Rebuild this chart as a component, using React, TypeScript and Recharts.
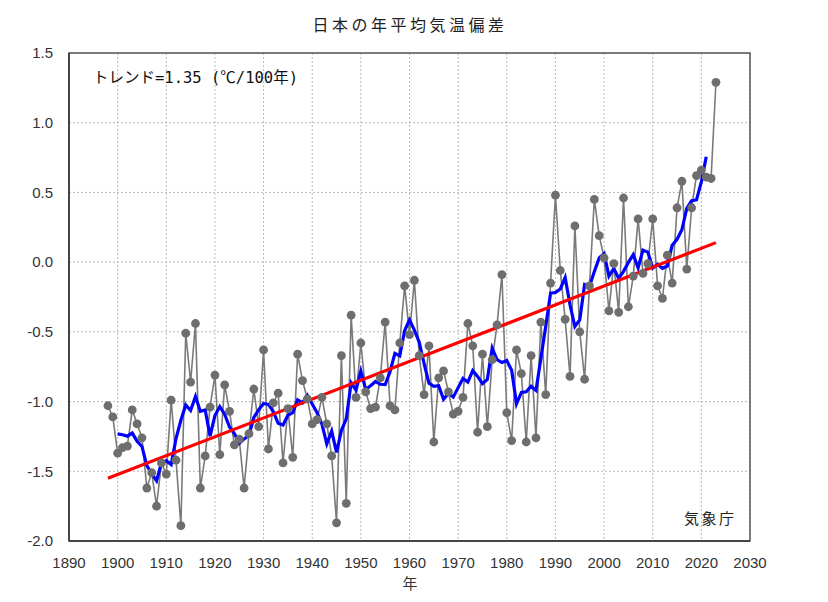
import React from 'react';
import {
  LineChart,
  Line,
  XAxis,
  YAxis,
  CartesianGrid,
  ReferenceArea,
} from 'recharts';

// 年 (1898-2023)
const years = Array.from({ length: 2023 - 1898 + 1 }, (_, i) => 1898 + i);

// 年平均気温偏差 (℃)
const anomalies = [
  -1.03, -1.11, -1.37, -1.33, -1.32, -1.06, -1.16, -1.26, -1.62, -1.51, // 1898-1907
  -1.75, -1.44, -1.52, -0.99, -1.42, -1.89, -0.51, -0.86, -0.44, -1.62, // 1908-1917
  -1.39, -1.04, -0.81, -1.38, -0.88, -1.07, -1.31, -1.27, -1.62, -1.23, // 1918-1927
  -0.91, -1.18, -0.63, -1.34, -1.01, -0.94, -1.44, -1.05, -1.40, -0.66, // 1928-1937
  -0.85, -0.98, -1.16, -1.13, -0.97, -1.16, -1.39, -1.87, -0.67, -1.73, // 1938-1947
  -0.38, -0.97, -0.58, -0.93, -1.05, -1.04, -0.83, -0.43, -1.03, -1.06, // 1948-1957
  -0.58, -0.17, -0.52, -0.13, -0.67, -0.95, -0.60, -1.29, -0.83, -0.78, // 1958-1967
  -0.93, -1.09, -1.07, -0.97, -0.44, -0.60, -1.22, -0.66, -1.18, -0.70, // 1968-1977
  -0.45, -0.09, -1.08, -1.28, -0.63, -0.80, -1.29, -0.67, -1.26, -0.43, // 1978-1987
  -0.95, -0.15, 0.48, -0.06, -0.41, -0.82, 0.26, -0.50, -0.84, -0.17, // 1988-1997
  0.45, 0.19, 0.03, -0.35, -0.01, -0.36, 0.46, -0.32, -0.10, 0.31, // 1998-2007
  -0.08, -0.01, 0.31, -0.17, -0.26, 0.05, -0.15, 0.39, 0.58, -0.05, // 2008-2017
  0.39, 0.62, 0.66, 0.61, 0.60, 1.29, // 2018-2023
];

// 長期変化傾向 (トレンド) の両端
const trendYears = [1898, 2023];
const trendValues = [-1.55, 0.14];

const xTicks = [1890, 1900, 1910, 1920, 1930, 1940, 1950, 1960, 1970, 1980, 1990, 2000, 2010, 2020, 2030];
const yTicks = [-2.0, -1.5, -1.0, -0.5, 0.0, 0.5, 1.0, 1.5];

// 5年移動平均 (中心), 1900-2021
const data = years.map((year, i) => {
  const row: any = { year, anomaly: anomalies[i] };
  if (i >= 2 && i <= anomalies.length - 3) {
    const win = anomalies.slice(i - 2, i + 3);
    row.mean5 = win.reduce((a, b) => a + b, 0) / win.length;
  }
  const t = trendYears.indexOf(year);
  if (t >= 0) row.trend = trendValues[t];
  return row;
});

const font = '"Liberation Sans", Arial, "Noto Sans CJK JP", sans-serif';
const jpFont = '"Noto Sans CJK JP", sans-serif';
const monoFont = '"DejaVu Sans Mono", "Noto Sans CJK JP", monospace';

export default function App() {
  return (
    <div style={{ position: 'absolute', left: 0, top: 0, width: 828, height: 602, background: '#fff' }}>
      <LineChart
        width={828}
        height={602}
        data={data}
        margin={{ top: 53, right: 78, left: 0, bottom: 0 }}
      >
        <CartesianGrid stroke="#b8b8b8" strokeDasharray="2 2" />
        <XAxis
          dataKey="year"
          type="number"
          domain={[1890, 2030]}
          ticks={xTicks}
          height={61}
          tickLine={false}
          tickMargin={10}
          axisLine={{ stroke: '#333', strokeWidth: 1.5 }}
          tick={{ fill: '#333', fontSize: 15, fontFamily: font }}
        />
        <YAxis
          type="number"
          domain={[-2, 1.5]}
          ticks={yTicks}
          width={69}
          tickLine={false}
          tickMargin={10}
          allowDataOverflow
          axisLine={{ stroke: '#333', strokeWidth: 1.5 }}
          tickFormatter={(v: number) => v.toFixed(1)}
          tick={{ fill: '#333', fontSize: 15, fontFamily: font }}
        />
        <ReferenceArea
          x1={1890}
          x2={2030}
          y1={-2}
          y2={1.5}
          fill="none"
          stroke="#555"
          strokeWidth={1.5}
          ifOverflow="visible"
        />
        <Line
          dataKey="anomaly"
          stroke="#7a7a7a"
          strokeWidth={1.6}
          dot={{ r: 4.4, fill: '#6e6e6e', stroke: '#6e6e6e', strokeWidth: 0 }}
          isAnimationActive={false}
        />
        <Line
          dataKey="mean5"
          stroke="#0000ff"
          strokeWidth={3.2}
          dot={false}
          isAnimationActive={false}
        />
        <Line
          dataKey="trend"
          stroke="#ff0000"
          strokeWidth={3.2}
          dot={false}
          connectNulls
          isAnimationActive={false}
        />
        <text x={410} y={31} textAnchor="middle" fontSize={16} letterSpacing={3.5} fill="#222" fontFamily={jpFont}>
          日本の年平均気温偏差
        </text>
        <text x={93} y={83} fontSize={15.5} fill="#111" fontFamily={monoFont}>
          トレンド=1.35 (℃/100年)
        </text>
        <text x={684} y={524} fontSize={15} letterSpacing={2.5} fill="#222" fontFamily={jpFont}>
          気象庁
        </text>
        <text x={410} y={589} textAnchor="middle" fontSize={15} fill="#333" fontFamily={jpFont}>
          年
        </text>
      </LineChart>
    </div>
  );
}
